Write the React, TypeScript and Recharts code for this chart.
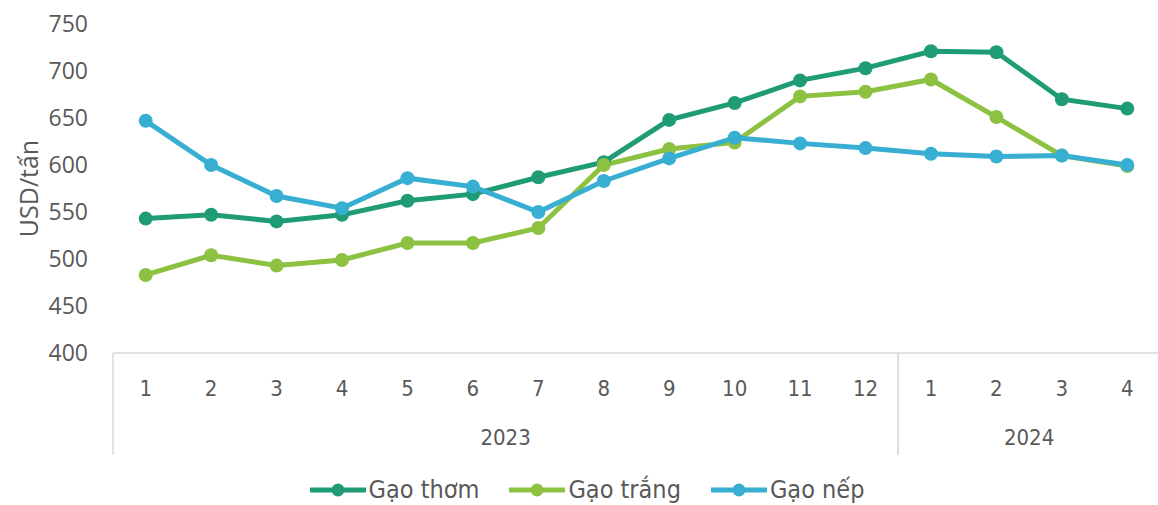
import { LineChart, Line, XAxis, YAxis, Legend } from "recharts"

// monthly export prices, USD per tonne
const months = [1, 2, 3, 4, 5, 6, 7, 8, 9, 10, 11, 12, 1, 2, 3, 4]
const years = [2023, 2023, 2023, 2023, 2023, 2023, 2023, 2023, 2023, 2023, 2023, 2023, 2024, 2024, 2024, 2024]
const gaoThom = [543, 547, 540, 547, 562, 569, 587, 603, 648, 666, 690, 703, 721, 720, 670, 660]
const gaoTrang = [483, 504, 493, 499, 517, 517, 533, 600, 617, 624, 673, 678, 691, 651, 610, 599]
const gaoNep = [647, 600, 567, 554, 586, 577, 550, 583, 607, 629, 623, 618, 612, 609, 610, 600]
const yTicks = [400, 450, 500, 550, 600, 650, 700, 750]

const series = [
  { key: "thom", name: "Gạo thơm", color: "#1f9c75" },
  { key: "trang", name: "Gạo trắng", color: "#8cc142" },
  { key: "nep", name: "Gạo nếp", color: "#38afd2" }
]

const textColor = "#595959"
const narrowFont = "'Liberation Sans Narrow', 'DejaVu Sans Condensed', sans-serif"
const axisFont = "'Open Sans', 'Noto Sans', sans-serif"

const data = months.map((m, i) => ({
  key: `${years[i]}-${m}`,
  month: m,
  year: years[i],
  thom: gaoThom[i],
  trang: gaoTrang[i],
  nep: gaoNep[i]
}))

// month number under each point, plus year groups with separators
function MonthTick(props: any) {
  const { x, y, payload, index, width } = props
  const half = payload?.offset || width / (2 * months.length)
  const yr = years[index]
  const first = index === 0 || years[index - 1] !== yr
  const last = index === years.length - 1 || years[index + 1] !== yr
  const count = years.filter((v) => v === yr).length
  const left = x - half
  return (
    <g>
      <text
        x={x}
        y={y + 35}
        textAnchor="middle"
        dominantBaseline="central"
        fill={textColor}
        fontFamily={narrowFont}
        fontSize={22}
      >
        {months[index]}
      </text>
      {first && <line x1={left} x2={left} y1={y} y2={y + 102} stroke="#d9d9d9" strokeWidth={1.5} />}
      {last && <line x1={x + half} x2={x + half} y1={y} y2={y + 102} stroke="#d9d9d9" strokeWidth={1.5} />}
      {first && (
        <text
          x={left + half * count}
          y={y + 84}
          textAnchor="middle"
          dominantBaseline="central"
          fill={textColor}
          fontFamily={narrowFont}
          fontSize={22}
        >
          {yr}
        </text>
      )}
    </g>
  )
}

function LegendRow() {
  return (
    <div style={{ display: "flex", justifyContent: "center", alignItems: "center", gap: 30, height: 30, paddingLeft: 14 }}>
      {series.map((s) => (
        <div key={s.key} style={{ display: "flex", alignItems: "center" }}>
          <svg width={56} height={16}>
            <line x1={0} x2={56} y1={8} y2={8} stroke={s.color} strokeWidth={5} strokeLinecap="round" />
            <circle cx={28} cy={8} r={6.5} fill={s.color} />
          </svg>
          <span style={{ fontFamily: narrowFont, fontSize: 25, lineHeight: "30px", color: textColor, marginLeft: 3 }}>
            {s.name}
          </span>
        </div>
      ))}
    </div>
  )
}

export default function App() {
  return (
    <div style={{ position: "absolute", left: 0, top: 0, width: 1158, height: 505, overflow: "hidden", background: "#fff" }}>
      <LineChart width={1160} height={505} data={data} margin={{ top: 24, right: 0, bottom: 0, left: 0 }}>
        <XAxis
          dataKey="key"
          scale="band"
          interval={0}
          height={122}
          tickLine={false}
          tickSize={0}
          tickMargin={0}
          axisLine={{ stroke: "#d9d9d9", strokeWidth: 1.5 }}
          tick={<MonthTick />}
        />
        <YAxis
          domain={[400, 750]}
          ticks={yTicks}
          width={113}
          axisLine={false}
          tickLine={false}
          tickSize={0}
          tickMargin={25}
          tick={{ fill: textColor, fontFamily: axisFont, fontSize: 23 }}
          label={{
            content: ({ viewBox }: any) => (
              <text
                transform={`translate(${viewBox.x + 28},${viewBox.y + viewBox.height / 2}) rotate(-90)`}
                textAnchor="middle"
                dominantBaseline="central"
                fill={textColor}
                fontFamily={axisFont}
                fontSize={25}
              >
                USD/tấn
              </text>
            )
          }}
        />
        <Legend verticalAlign="bottom" height={30} content={<LegendRow />} />
        {series.map((s) => (
          <Line
            key={s.key}
            name={s.name}
            dataKey={s.key}
            stroke={s.color}
            strokeWidth={5}
            dot={{ r: 7, fill: s.color, stroke: "none" }}
            activeDot={false}
            isAnimationActive={false}
          />
        ))}
      </LineChart>
    </div>
  )
}
